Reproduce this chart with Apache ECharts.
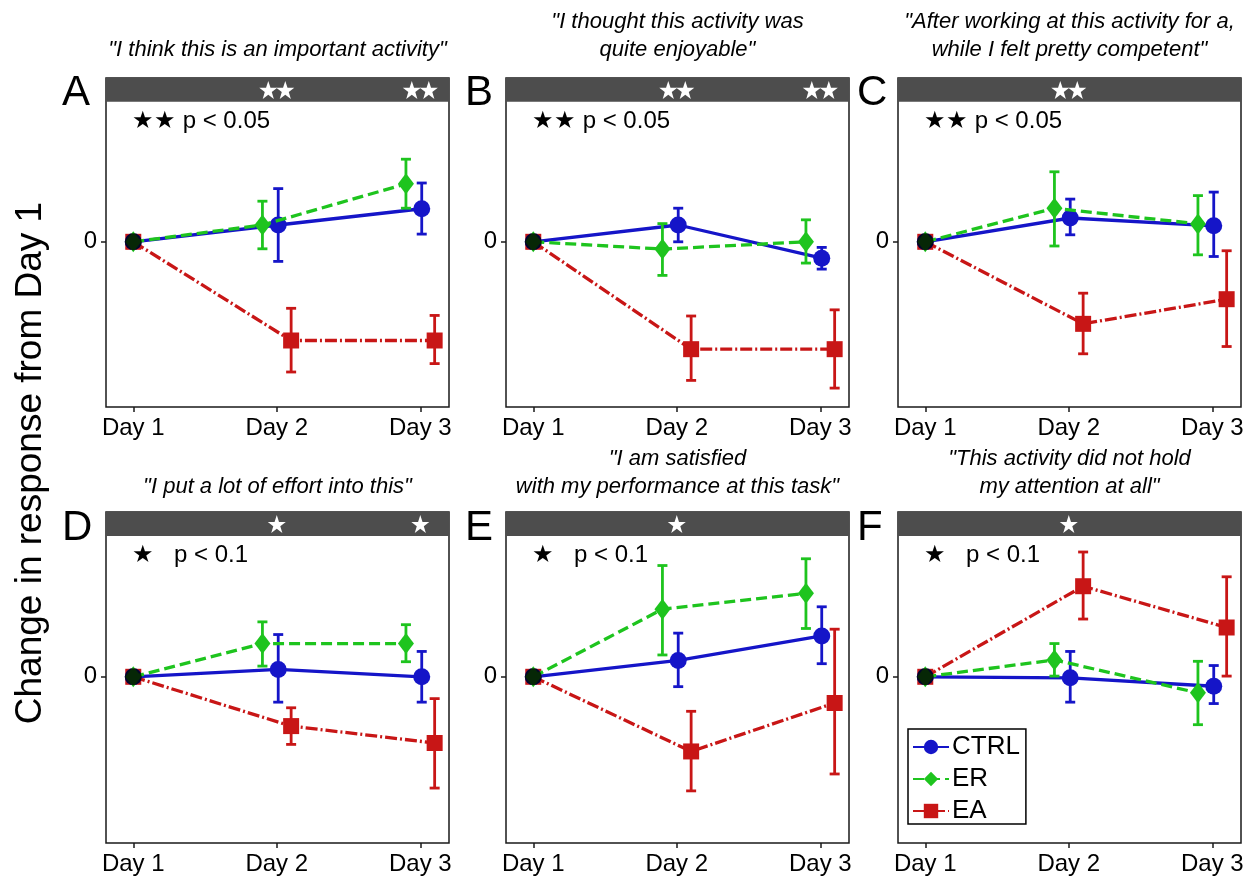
<!DOCTYPE html>
<html><head><meta charset="utf-8">
<script src="https://cdn.jsdelivr.net/npm/echarts@6/dist/echarts.min.js"></script>
<style>html,body{margin:0;padding:0;background:#fff}#c{width:1255px;height:880px}</style>
</head><body><div id="c"></div>
<script>
// ---------------- data ----------------
const days = ['Day 1', 'Day 2', 'Day 3'];
const dayPos = [1, 2, 3];
const groups = ['CTRL', 'ER', 'EA'];
const panelLetters = ['A', 'B', 'C', 'D', 'E', 'F'];
const panelTitles = [
  '"I think this is an important activity"',
  '"I thought this activity was\nquite enjoyable"',
  '"After working at this activity for a,\nwhile I felt pretty competent"',
  '"I put a lot of effort into this"',
  '"I am satisfied\nwith my performance at this task"',
  '"This activity did not hold\nmy attention at all"'
];
// number of significance stars shown in the strip for Day 1, Day 2, Day 3
const sigStarCount = [
  [0, 2, 2], [0, 2, 2], [0, 2, 0],
  [0, 1, 1], [0, 1, 0], [0, 1, 0]
];
const sigNotes = ['★★ p < 0.05', '★★ p < 0.05', '★★ p < 0.05', '★   p < 0.1', '★   p < 0.1', '★   p < 0.1'];
const yTicks = [0];

const ctrlMean = [[0, 0.12, 0.236], [0, 0.12, -0.117], [0, 0.17, 0.114], [0, 0.052, 0], [0, 0.116, 0.29], [0, -0.007, -0.067]];
const ctrlLow  = [[null, -0.14, 0.055], [null, 0.0, -0.195], [null, 0.05, -0.105], [null, -0.18, -0.18], [null, -0.07, 0.093], [null, -0.18, -0.19]];
const ctrlHigh = [[null, 0.38, 0.42], [null, 0.24, -0.04], [null, 0.305, 0.355], [null, 0.30, 0.18], [null, 0.31, 0.497], [null, 0.18, 0.08]];

const erMean = [[0, 0.12, 0.414], [0, -0.052, 0.0], [0, 0.24, 0.128], [0, 0.236, 0.236], [0, 0.48, 0.593], [0, 0.12, -0.114]];
const erLow  = [[null, -0.05, 0.24], [null, -0.24, -0.152], [null, -0.03, -0.093], [null, 0.076, 0.107], [null, 0.155, 0.343], [null, 0.005, -0.34]];
const erHigh = [[null, 0.29, 0.59], [null, 0.13, 0.157], [null, 0.50, 0.33], [null, 0.39, 0.37], [null, 0.79, 0.838], [null, 0.236, 0.11]];

const eaMean = [[0, -0.705, -0.705], [0, -0.767, -0.767], [0, -0.586, -0.41], [0, -0.35, -0.47], [0, -0.53, -0.186], [0, 0.643, 0.35]];
const eaLow  = [[null, -0.93, -0.87], [null, -0.99, -1.045], [null, -0.80, -0.748], [null, -0.48, -0.79], [null, -0.81, -0.69], [null, 0.41, 0.005]];
const eaHigh = [[null, -0.475, -0.526], [null, -0.53, -0.486], [null, -0.367, -0.064], [null, -0.22, -0.155], [null, -0.245, 0.338], [null, 0.886, 0.71]];

// ---------------- style / layout ----------------
const FONT = '"Liberation Sans", Arial, Helvetica, sans-serif';
const STAR = 'path://M50,0 L61.8,35.1 L97.6,35.1 L68.5,56.7 L79.4,91 L50,70 L20.6,91 L31.5,56.7 L2.4,35.1 L38.2,35.1 Z';
const STYLE = {
  CTRL: { color: '#1515C8', type: 'solid', symbol: 'circle', size: 17, dodge: 0.01, z: 3 },
  ER:   { color: '#1EC41E', type: [11, 5], symbol: 'diamond', size: [16, 21], dodge: -0.1, z: 4 },
  EA:   { color: '#C81616', type: [12, 3, 2, 3], symbol: 'rect', size: 16, dodge: 0.1, z: 2 }
};
const DATA = {
  CTRL: [ctrlMean, ctrlLow, ctrlHigh],
  ER: [erMean, erLow, erHigh],
  EA: [eaMean, eaLow, eaHigh]
};
const gridLeft = [106, 506, 898];
const gridTop = [78, 512];
const gridHeight = [329, 331];
const gridWidth = 343;
const X_MIN = 0.81, X_MAX = 3.2;
const Y_MIN = -1.18, Y_MAX = 1.17, STRIP_LO = 1.0, STRIP_MID = 1.085;
const STAR_SIZE = 18;

const grids = [], xAxes = [], yAxes = [], series = [], graphics = [];

for (let p = 0; p < 6; p++) {
  const row = Math.floor(p / 3), col = p % 3;
  const L = gridLeft[col], T = gridTop[row];
  grids.push({ left: L, top: T, width: gridWidth, height: gridHeight[row], show: true,
    borderColor: '#1a1a1a', borderWidth: 1.5, backgroundColor: 'transparent' });
  xAxes.push({ type: 'value', gridIndex: p, min: X_MIN, max: X_MAX, position: 'bottom',
    axisLine: { show: false, onZero: false }, splitLine: { show: false },
    axisTick: { show: true, customValues: dayPos, length: 5, lineStyle: { color: '#1a1a1a', width: 1.5 } },
    axisLabel: { show: true, customValues: dayPos, margin: 9, color: '#000', fontSize: 24, fontFamily: FONT,
      formatter: v => days[dayPos.indexOf(Math.round(v))] || '' } });
  yAxes.push({ type: 'value', gridIndex: p, min: Y_MIN, max: Y_MAX, position: 'left',
    axisLine: { show: false, onZero: false }, splitLine: { show: false },
    axisTick: { show: true, customValues: yTicks, length: 5, lineStyle: { color: '#1a1a1a', width: 1.5 } },
    axisLabel: { show: true, customValues: yTicks, margin: 9, color: '#000', fontSize: 24, fontFamily: FONT,
      formatter: v => String(Math.round(v)) } });

  // strip background
  series.push({
    type: 'line', xAxisIndex: p, yAxisIndex: p, silent: true, z: 1, data: [],
    markArea: { silent: true, itemStyle: { color: '#4D4D4D', opacity: 1 }, label: { show: false },
      data: [[{ yAxis: STRIP_LO }, { yAxis: Y_MAX }]] }
  });
  // strip significance stars
  const starItems = [];
  sigStarCount[p].forEach((n, i) => {
    for (let k = 0; k < n; k++) {
      starItems.push({ value: [dayPos[i], STRIP_MID], symbolOffset: [(k - (n - 1) / 2) * (STAR_SIZE - 1), 0] });
    }
  });
  series.push({
    type: 'scatter', xAxisIndex: p, yAxisIndex: p, silent: true, z: 10, zlevel: 1,
    symbol: STAR, symbolSize: STAR_SIZE, itemStyle: { color: '#ffffff', opacity: 1 },
    data: starItems
  });

  groups.forEach(g => {
    const st = STYLE[g];
    const [mean, low, high] = DATA[g];
    series.push({
      name: g, type: 'line', xAxisIndex: p, yAxisIndex: p, z: st.z,
      data: mean[p].map((v, i) => [dayPos[i] + (i === 0 ? 0 : st.dodge), v]),
      symbol: st.symbol, symbolSize: st.size, showSymbol: true,
      lineStyle: { color: st.color, width: 3.3, type: st.type },
      itemStyle: { color: st.color }
    });
    series.push({
      type: 'custom', xAxisIndex: p, yAxisIndex: p, z: st.z, silent: true,
      encode: { x: 0, y: [1, 2] },
      data: low[p].map((l, i) => l == null ? null : [dayPos[i] + st.dodge, l, high[p][i]]).filter(d => d),
      renderItem: (params, api) => {
        const x = api.value(0);
        const a = api.coord([x, api.value(1)]);
        const b = api.coord([x, api.value(2)]);
        const w = 5;
        const ls = { stroke: st.color, lineWidth: 2.8 };
        return { type: 'group', children: [
          { type: 'line', shape: { x1: a[0], y1: a[1], x2: b[0], y2: b[1] }, style: ls },
          { type: 'line', shape: { x1: a[0] - w, y1: a[1], x2: a[0] + w, y2: a[1] }, style: ls },
          { type: 'line', shape: { x1: b[0] - w, y1: b[1], x2: b[0] + w, y2: b[1] }, style: ls }
        ] };
      }
    });
  });
  // common Day 1 baseline point
  series.push({ type: 'scatter', xAxisIndex: p, yAxisIndex: p, z: 6, silent: true,
    data: [[dayPos[0], 0]], symbol: 'circle', symbolSize: 17, itemStyle: { color: '#000' } });

  // titles, letters, notes
  const cx = L + gridWidth / 2;
  graphics.push({ type: 'text', silent: true, style: {
    text: panelTitles[p], x: cx, y: row === 0 ? 64 : 501, font: 'italic 22px ' + FONT, lineHeight: 28,
    textAlign: 'center', textVerticalAlign: 'bottom', align: 'center', verticalAlign: 'bottom', fill: '#000' } });
  graphics.push({ type: 'text', silent: true, style: {
    text: panelLetters[p], x: [62, 465, 857][col], y: row === 0 ? 93 : 528, font: '42px ' + FONT,
    textAlign: 'left', textVerticalAlign: 'middle', align: 'left', verticalAlign: 'middle', fill: '#000' } });
  graphics.push({ type: 'text', silent: true, style: {
    text: sigNotes[p], x: L + 26, y: row === 0 ? 121 : 555, font: '24px ' + FONT,
    textAlign: 'left', textVerticalAlign: 'middle', align: 'left', verticalAlign: 'middle', fill: '#000' } });
}

graphics.push({ type: 'text', silent: true, x: 31, y: 463, rotation: Math.PI / 2, style: {
  text: 'Change in response from Day 1', x: 0, y: 0, font: '37px ' + FONT,
  textAlign: 'center', textVerticalAlign: 'middle', align: 'center', verticalAlign: 'middle', fill: '#000' } });

const chart = echarts.init(document.getElementById('c'), null, { renderer: 'canvas' });
chart.setOption({
  animation: false,
  backgroundColor: '#fff',
  grid: grids, xAxis: xAxes, yAxis: yAxes, series: series, graphic: graphics,
  legend: {
    data: groups, orient: 'vertical', left: 908, top: 729,
    itemWidth: 36, itemHeight: 18, itemGap: 6, padding: [5, 6, 0, 4],
    borderColor: '#000', borderWidth: 1.5, backgroundColor: '#fff',
    textStyle: { fontSize: 26, fontFamily: FONT, color: '#000', padding: [0, 0, 0, -2] },
    selectedMode: false
  }
});
</script>
</body></html>
